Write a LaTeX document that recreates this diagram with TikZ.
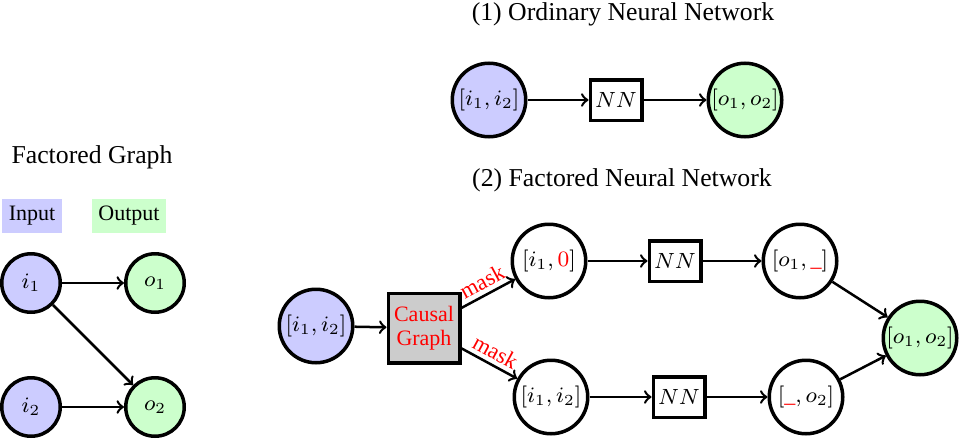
\RequirePackage{fix-cm}
\documentclass[tikz,border=0pt]{standalone}
\usepackage{fontspec}
\setmainfont{Liberation Serif}
\begin{document}
\begin{tikzpicture}[x=0.4pt,y=-0.4pt,
  nodefont/.style={font=\fontsize{8.8}{9.6}\selectfont},
  circ/.style={circle,draw,line width=1.4pt,minimum size=29.4pt,inner sep=0pt,nodefont},
  smallcirc/.style={circle,draw,line width=1.4pt,minimum size=23.4pt,inner sep=0pt,nodefont},
  nnbox/.style={rectangle,draw,line width=1.4pt,minimum width=20.6pt,minimum height=16.2pt,inner sep=0pt,nodefont},
  cgbox/.style={rectangle,draw,line width=1.4pt,fill=black!20,minimum width=28.6pt,minimum height=27.8pt,inner sep=0pt,align=center,text=red,nodefont},
  legend/.style={rectangle,minimum height=13.6pt,inner sep=0pt,nodefont},
  titletext/.style={font=\fontsize{10.3}{12}\selectfont},
  conn/.style={->,line width=1pt},
  masklbl/.style={pos=0.5,sloped,above,inner sep=1.6pt,text=red,font=\fontsize{9}{10}\selectfont},
  infill/.style={fill=blue!20},
  outfill/.style={fill=green!20}]
\useasboundingbox (0,0) rectangle (959,440);

% Factored graph
\node[titletext] (fgtitle) at (92,157) {Factored Graph};
\node[legend,infill,minimum width=24pt] (inlbl) at (32,216) {Input};
\node[legend,outfill,minimum width=29.6pt] (outlbl) at (129,216) {Output};
\node[smallcirc,infill] (fi1) at (31,283) {$i_1$};
\node[smallcirc,outfill] (fo1) at (155,283) {$o_1$};
\node[smallcirc,infill] (fi2) at (31,407) {$i_2$};
\node[smallcirc,outfill] (fo2) at (155,407) {$o_2$};
\draw[conn] (fi1) -- (fo1);
\draw[conn] (fi1) -- (fo2);
\draw[conn] (fi2) -- (fo2);

% Ordinary NN
\node[titletext] (t1) at (623,14) {(1) Ordinary Neural Network};
\node[circ,infill] (oin) at (489,100) {$[i_1,i_2]$};
\node[nnbox] (onn) at (616,100) {$NN$};
\node[circ,outfill] (oout) at (745,100) {$[o_1,o_2]$};
\draw[conn] (oin) -- (onn);
\draw[conn] (onn) -- (oout);

% Factored NN
\node[titletext] (t2) at (622,180) {(2) Factored Neural Network};
\node[circ,infill] (fin) at (316,326) {$[i_1,i_2]$};
\node[cgbox] (cg) at (424,328) {Causal\\Graph};
\node[circ] (a) at (549,261) {$[i_1,\textcolor{red}{0}]$};
\node[nnbox] (nna) at (675,261) {$NN$};
\node[circ] (ao) at (800,261) {$[o_1,\textcolor{red}{\_}]$};
\node[circ] (b) at (551,397) {$[i_1,i_2]$};
\node[nnbox] (nnb) at (679,397) {$NN$};
\node[circ] (bo) at (806,397) {$[\textcolor{red}{\_},o_2]$};
\node[circ,outfill] (out) at (920,338) {$[o_1,o_2]$};
\draw[conn] (fin) -- (cg);
\draw[conn] (cg) -- node[masklbl] {mask} (a);
\draw[conn] (cg) -- node[masklbl] {mask} (b);
\draw[conn] (a) -- (nna);
\draw[conn] (nna) -- (ao);
\draw[conn] (b) -- (nnb);
\draw[conn] (nnb) -- (bo);
\draw[conn] (ao) -- (out);
\draw[conn] (bo) -- (out);
\end{tikzpicture}
\end{document}
